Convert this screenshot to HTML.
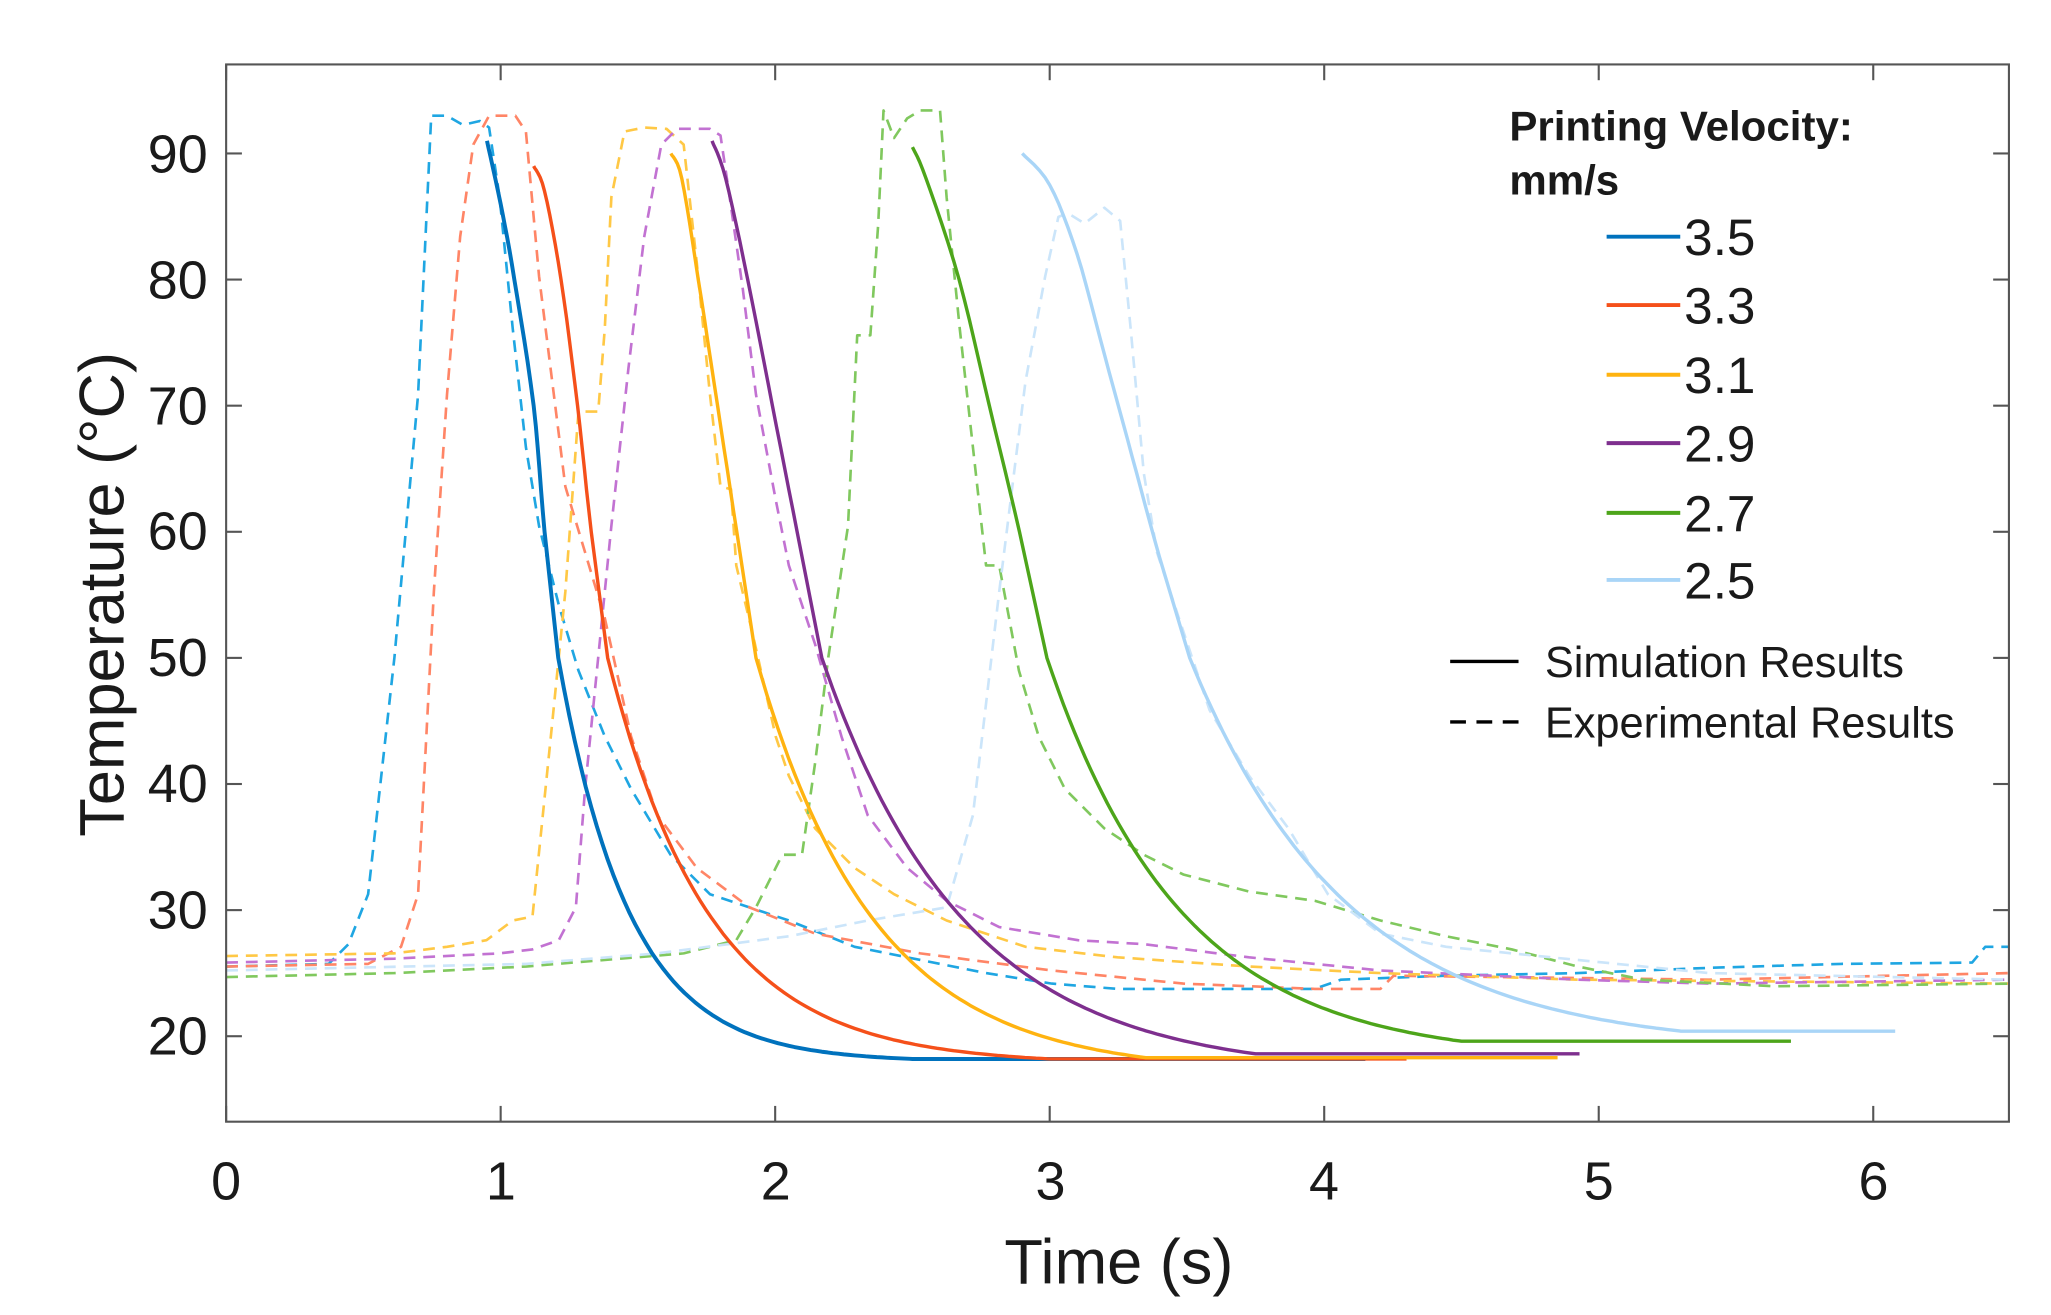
<!DOCTYPE html>
<html><head><meta charset="utf-8">
<style>
html,body{margin:0;padding:0;background:#fff;}
svg{display:block;}
text{font-family:"Liberation Sans",Arial,sans-serif;fill:#1a1a1a;}
</style></head>
<body>
<svg id="s" width="2051" height="1315" viewBox="0 0 1560 1000" preserveAspectRatio="none" xmlns="http://www.w3.org/2000/svg">
<rect x="0" y="0" width="1560" height="1000" fill="#fff"/>
<g id="plot"></g>
<g id="axes" stroke="#555" stroke-width="1.6" fill="none">
<rect x="172" y="49" width="1356" height="804"/>
</g>
<g font-size="41" text-anchor="end">
<text x="158" y="131">90</text><text x="158" y="227">80</text><text x="158" y="323">70</text>
<text x="158" y="418">60</text><text x="158" y="514">50</text><text x="158" y="610">40</text>
<text x="158" y="706">30</text><text x="158" y="802">20</text>
</g>
<g font-size="41" text-anchor="middle">
<text x="172" y="912">0</text><text x="381" y="912">1</text><text x="590" y="912">2</text>
<text x="799" y="912">3</text><text x="1007" y="912">4</text><text x="1216" y="912">5</text><text x="1425" y="912">6</text>
</g>
<text x="851" y="976" font-size="48" text-anchor="middle">Time (s)</text>
<text transform="translate(94,452) rotate(-90)" font-size="48" text-anchor="middle">Temperature (°C)</text>
<g font-size="32" font-weight="bold">
<text x="1148" y="107">Printing Velocity:</text>
<text x="1148" y="148">mm/s</text>
</g>
<g stroke-width="3">
<line x1="1222" y1="180" x2="1278" y2="180" stroke="#0072BD"/>
<line x1="1222" y1="232" x2="1278" y2="232" stroke="#F5501A"/>
<line x1="1222" y1="285" x2="1278" y2="285" stroke="#FFB310"/>
<line x1="1222" y1="337" x2="1278" y2="337" stroke="#7E2F8E"/>
<line x1="1222" y1="390" x2="1278" y2="390" stroke="#4DA51A"/>
<line x1="1222" y1="441" x2="1278" y2="441" stroke="#A9D5F7"/>
</g>
<g font-size="39">
<text x="1281" y="194">3.5</text><text x="1281" y="246">3.3</text><text x="1281" y="299">3.1</text>
<text x="1281" y="351">2.9</text><text x="1281" y="404">2.7</text><text x="1281" y="455">2.5</text>
</g>
<line x1="1103" y1="503" x2="1155" y2="503" stroke="#000" stroke-width="2.5"/>
<line x1="1103" y1="549" x2="1160" y2="549" stroke="#000" stroke-width="2.5" stroke-dasharray="12,8"/>
<g font-size="33">
<text x="1175" y="515">Simulation Results</text>
<text x="1175" y="561">Experimental Results</text>
</g>
</svg>
<script>
var NS="http://www.w3.org/2000/svg";
function X(t){return 172+208.8*t;}
function Y(T){return 788-(T-20)*9.59;}
var plot=document.getElementById('plot'),axes=document.getElementById('axes');
var ax=[0,1,2,3,4,5,6],ay=[20,30,40,50,60,70,80,90];
ax.forEach(function(t){var x=X(t);add(axes,'line',{x1:x,y1:853,x2:x,y2:841});add(axes,'line',{x1:x,y1:49,x2:x,y2:61});});
ay.forEach(function(T){var y=Y(T);add(axes,'line',{x1:172,y1:y,x2:184,y2:y});add(axes,'line',{x1:1528,y1:y,x2:1516,y2:y});});
function add(p,tag,a){var e=document.createElementNS(NS,tag);for(var k in a)e.setAttribute(k,a[k]);p.appendChild(e);return e;}
function poly(pts,color,w,dash){var d=pts.map(function(p,i){return (i?'L':'M')+p[0].toFixed(1)+' '+p[1].toFixed(1);}).join(' ');
 var a={d:d,fill:'none',stroke:color,'stroke-width':w,'stroke-linejoin':'round'};if(dash)a['stroke-dasharray']=dash;add(plot,'path',a);}
function spline(P,n){var out=[];for(var i=0;i<P.length-1;i++){var p0=P[Math.max(0,i-1)],p1=P[i],p2=P[i+1],p3=P[Math.min(P.length-1,i+2)];
 for(var k=0;k<n;k++){var t=k/n,t2=t*t,t3=t2*t;var f=function(a,b,c,d){return 0.5*((2*b)+(-a+c)*t+(2*a-5*b+4*c-d)*t2+(-a+3*b-3*c+d)*t3);};
 out.push([f(p0[0],p1[0],p2[0],p3[0]),f(p0[1],p1[1],p2[1],p3[1])]);}}out.push(P[P.length-1]);return out;}
var E=[
['#1FA6E2',[[172,735],[250,733],[265,718],[280,680],[300,500],[318,300],[328,88],[340,88],[352,95],[365,92],[372,97],[380,150],[390,250],[400,340],[410,400],[425,460],[440,510],[460,560],[480,600],[510,650],[540,680],[570,690],[600,700],[650,720],[700,730],[750,740],[800,748],[850,752],[900,752],[950,752],[1000,752],[1020,745],[1100,742],[1200,740],[1300,736],[1400,733],[1500,732],[1510,720],[1528,720]]],
['#FF8566',[[172,735],[280,733],[305,720],[318,680],[330,450],[340,300],[350,180],[360,110],[372,88],[392,88],[400,100],[410,210],[420,290],[430,370],[445,420],[460,470],[480,560],[500,620],[530,660],[570,690],[620,710],[700,725],[800,738],[900,748],[1000,752],[1050,752],[1060,742],[1300,745],[1528,740]]],
['#FFC845',[[172,727],[300,725],[340,720],[370,715],[390,700],[405,697],[420,550],[430,450],[440,313],[455,313],[460,250],[465,150],[475,100],[490,97],[507,98],[520,110],[530,200],[540,300],[548,370],[556,372],[560,430],[572,480],[590,560],[600,590],[620,630],[650,660],[680,680],[720,700],[780,720],[850,728],[950,735],[1050,740],[1200,745],[1528,748]]],
['#C272D2',[[172,732],[300,729],[380,725],[405,722],[425,715],[438,690],[445,600],[455,500],[465,400],[478,280],[490,180],[503,110],[515,98],[540,98],[548,103],[555,150],[565,220],[575,300],[590,380],[600,430],[620,490],[640,560],[660,620],[690,660],[720,685],[760,705],[820,715],[870,718],[950,728],[1050,738],[1200,745],[1300,748],[1528,745]]],
['#80C85E',[[172,743],[300,740],[400,735],[460,730],[520,725],[560,715],[575,690],[595,650],[610,650],[620,580],[630,500],[645,400],[652,255],[662,255],[668,170],[672,84],[680,105],[690,90],[700,84],[715,84],[720,150],[730,250],[740,340],[750,430],[760,430],[775,510],[790,560],[810,600],[840,630],[870,650],[900,665],[950,678],[1000,685],[1050,700],[1100,712],[1150,722],[1200,735],[1250,745],[1350,750],[1528,748]]],
['#CBE5FA',[[172,738],[400,733],[500,725],[600,712],[660,700],[720,690],[740,620],[760,450],[780,290],[795,210],[805,165],[812,162],[825,170],[840,158],[852,168],[860,250],[870,360],[880,420],[900,480],[920,540],[950,590],[980,630],[1010,680],[1050,710],[1100,720],[1200,730],[1300,740],[1528,745]]]
];
E.forEach(function(e){poly(e[1],e[0],2,'9,6');});
// simulation: [color, shoulder pts, ts(T=50), Tp, tau, tend, width, tplateau]
var S=[
['#0072BD',[[0.95,91],[1.0,86],[1.05,80],[1.12,70],[1.16,60]],1.21,18.2,0.26,4.15,3,2.5],
['#F5501A',[[1.12,89],[1.16,87],[1.22,80],[1.28,70],[1.33,60]],1.39,18.2,0.37,4.3,2.6,3.0],
['#FFB310',[[1.62,90],[1.66,88],[1.72,80],[1.79,70],[1.86,60]],1.93,18.3,0.43,4.85,2.6,3.35],
['#7E2F8E',[[1.77,91],[1.82,88],[1.9,80],[1.99,70],[2.08,60]],2.17,18.6,0.52,4.93,2.6,3.75],
['#4DA51A',[[2.5,90.5],[2.55,88],[2.67,80],[2.78,70],[2.89,60]],2.99,19.6,0.49,5.7,2.6,4.5],
['#A9D5F7',[[2.9,90],[3.0,87.5],[3.1,82],[3.2,74],[3.3,66],[3.4,58]],3.51,20.4,0.58,6.08,2.6,5.3]
];
S.forEach(function(s){var sh=s[1].map(function(p){return [X(p[0]),Y(p[1])];});
 var Tp=s[3],ts=s[2],tau=s[4];var e=Math.exp(-(s[7]-ts)/tau);var d=(50-Tp)*e/(1-e);
 var A=50-Tp+d;var tail=[];
 for(var t=ts;t<=s[7]+0.001;t+=0.02){var T=(Tp-d)+A*Math.exp(-(t-ts)/tau);if(T<Tp)T=Tp;tail.push([X(t),Y(T)]);}
 var pts=spline(sh.concat(tail.slice(0,3)),6).slice(0,-3*6);
 pts=pts.concat(tail);
 pts.push([X(s[7]),Y(Tp)]);pts.push([X(s[5]),Y(Tp)]);
 poly(pts,s[0],s[6]);});
</script>
</body></html>
